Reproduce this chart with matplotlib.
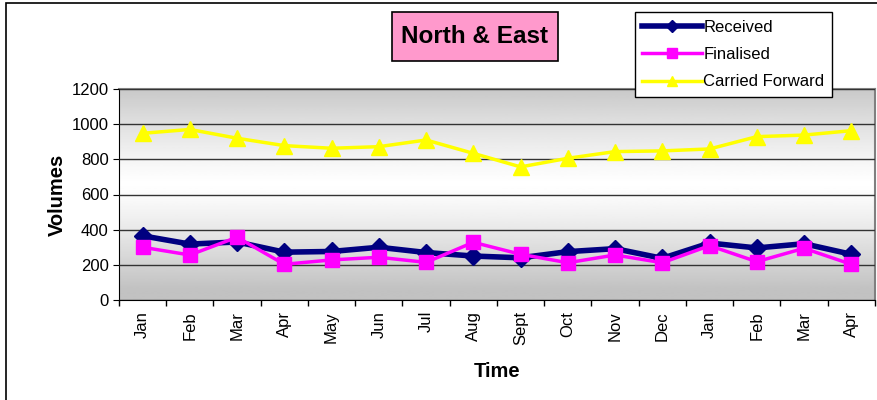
import numpy as np
import matplotlib.pyplot as plt
from matplotlib.patches import Rectangle

months = ["Jan", "Feb", "Mar", "Apr", "May", "Jun", "Jul", "Aug", "Sept",
          "Oct", "Nov", "Dec", "Jan", "Feb", "Mar", "Apr"]
received = [365, 318, 330, 272, 276, 300, 270, 250, 240,
            275, 292, 237, 324, 296, 320, 260]
finalised = [300, 256, 357, 203, 228, 243, 214, 328, 260,
             212, 256, 212, 309, 218, 294, 203]
carried_fwd = [948, 970, 920, 878, 863, 872, 910, 834, 757,
               806, 844, 848, 859, 929, 938, 963]

plt.rcParams["font.family"] = ["Liberation Sans", "DejaVu Sans"]

fig = plt.figure(figsize=(8.78, 4.0), dpi=100)
ax = fig.add_axes([0.1355, 0.25, 0.861, 0.5275])

# grey-white-grey gradient background
grad = np.abs(np.linspace(-1, 1, 256) + 0.1)
grad = 0.76 + 0.24 * (1 - np.clip(grad, 0, 1) ** 1.2)
ax.imshow(grad.reshape(-1, 1), cmap="gray", vmin=0, vmax=1, aspect="auto",
          extent=[0, 1, 0, 1], transform=ax.transAxes, zorder=0)

x = np.arange(len(months))
ax.plot(x, received, color="#000080", lw=4, marker="D", ms=9, label="Received", zorder=3)
ax.plot(x, finalised, color="#ff00ff", lw=2.5, marker="s", ms=10, label="Finalised", zorder=4)
ax.plot(x, carried_fwd, color="#ffff00", lw=2.5, marker="^", ms=11, label="Carried Forward", zorder=3)

ax.set_xlim(-0.5, len(months) - 0.5)
ax.set_ylim(0, 1200)
ax.set_yticks(range(0, 1201, 200))
ax.set_xticks(x)
ax.set_xticklabels(months, rotation=90, fontsize=12)
ax.set_xticks(np.arange(-0.5, len(months)), minor=True)
ax.tick_params(axis="x", which="major", length=0, pad=8)
ax.tick_params(axis="x", which="minor", length=4, width=1)
ax.tick_params(axis="y", labelsize=12, length=4)
ax.grid(axis="y", color="#333333", lw=1, zorder=1)
ax.set_axisbelow(False)
for s in ["top", "right"]:
    ax.spines[s].set_color("#808080")
    ax.spines[s].set_linewidth(1.5)
ax.set_xlabel("Time", fontsize=14.5, fontweight="bold", labelpad=12)
ax.set_ylabel("Volumes", fontsize=14.5, fontweight="bold", labelpad=3)

# title in a pink box
fig.patches.append(Rectangle((0.4465, 0.8475), 0.189, 0.1225, transform=fig.transFigure,
                             fc="#ff99cc", ec="black", lw=1.2))
fig.text(0.541, 0.909, "North & East", fontsize=17.5, fontweight="bold",
         ha="center", va="center")

fig.legend(loc="upper left", bbox_to_anchor=(0.7232, 0.97), fontsize=12,
           frameon=True, fancybox=False, edgecolor="black", framealpha=1,
           handlelength=3.6, handletextpad=0.05, labelspacing=0.75, borderpad=0.45,
           borderaxespad=0, markerscale=0.65)

fig.patches.append(Rectangle((0.007, -0.01), 1.0, 1.003, transform=fig.transFigure,
                             fill=False, ec="black", lw=1.2))

fig.savefig("out.png", dpi=100)
